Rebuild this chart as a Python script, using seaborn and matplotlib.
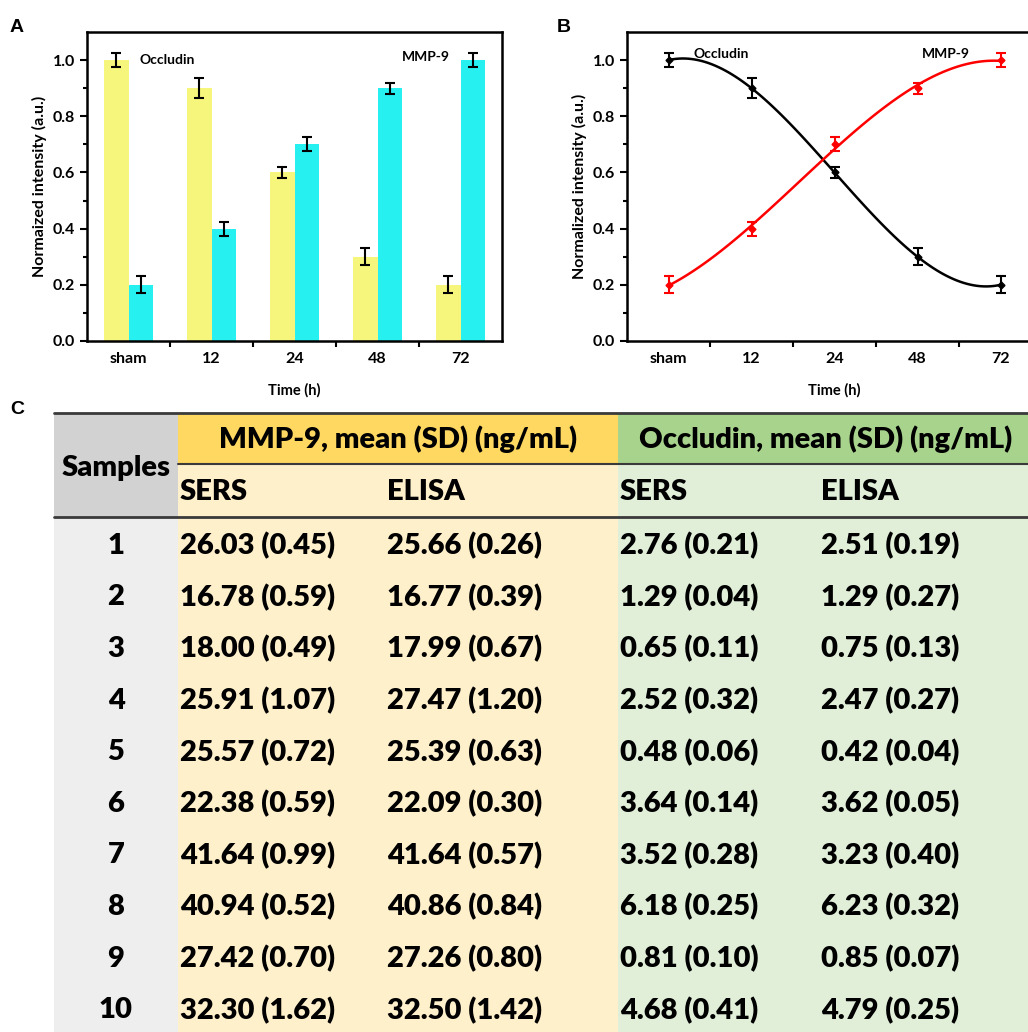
import numpy as np
import pandas as pd
import matplotlib
matplotlib.use("Agg")
import matplotlib.pyplot as plt
from matplotlib.patches import Rectangle
import seaborn as sns

# ---------------- data ----------------
times = ["sham", "12", "24", "48", "72"]
occludin = [1.00, 0.90, 0.60, 0.30, 0.20]
occludin_err = [0.025, 0.035, 0.02, 0.03, 0.03]
mmp9 = [0.20, 0.40, 0.70, 0.90, 1.00]
mmp9_err = [0.03, 0.025, 0.025, 0.02, 0.025]

samples = ["1", "2", "3", "4", "5", "6", "7", "8", "9", "10"]
mmp_sers = ["26.03 (0.45)", "16.78 (0.59)", "18.00 (0.49)", "25.91 (1.07)", "25.57 (0.72)",
            "22.38 (0.59)", "41.64 (0.99)", "40.94 (0.52)", "27.42 (0.70)", "32.30 (1.62)"]
mmp_elisa = ["25.66 (0.26)", "16.77 (0.39)", "17.99 (0.67)", "27.47 (1.20)", "25.39 (0.63)",
             "22.09 (0.30)", "41.64 (0.57)", "40.86 (0.84)", "27.26 (0.80)", "32.50 (1.42)"]
occ_sers = ["2.76 (0.21)", "1.29 (0.04)", "0.65 (0.11)", "2.52 (0.32)", "0.48 (0.06)",
            "3.64 (0.14)", "3.52 (0.28)", "6.18 (0.25)", "0.81 (0.10)", "4.68 (0.41)"]
occ_elisa = ["2.51 (0.19)", "1.29 (0.27)", "0.75 (0.13)", "2.47 (0.27)", "0.42 (0.04)",
             "3.62 (0.05)", "3.23 (0.40)", "6.23 (0.32)", "0.85 (0.07)", "4.79 (0.25)"]

sns.set_style("ticks")
plt.rcParams["font.family"] = ["Lato", "DejaVu Sans"]
plt.rcParams["font.weight"] = "bold"
plt.rcParams["axes.labelweight"] = "bold"
for k in ["text.color", "axes.labelcolor", "xtick.color", "ytick.color"]:
    plt.rcParams[k] = "black"

W, H = 1028, 1032
fig = plt.figure(figsize=(W / 100, H / 100), dpi=100)

YELLOW = "#F6F57C"
CYAN = "#26F0F0"


def style_axes(ax, ylabel):
    ax.set_xlim(-0.5, 4.5)
    ax.set_ylim(0, 1.1)
    ax.set_yticks([0, 0.2, 0.4, 0.6, 0.8, 1.0])
    ax.set_yticks(np.arange(0.1, 1.1, 0.2), minor=True)
    ax.set_xticks(range(5))
    ax.set_xticklabels(times)
    ax.set_xticks(np.arange(0.5, 4.5, 1.0), minor=True)
    ax.tick_params(axis="x", which="major", length=0, pad=8, labelsize=11.5)
    ax.tick_params(axis="x", which="minor", length=4, width=1.5, direction="out")
    ax.tick_params(axis="y", which="major", length=5, width=1.5, labelsize=11.5)
    ax.tick_params(axis="y", which="minor", length=3, width=1.5)
    for s in ax.spines.values():
        s.set_visible(True)
        s.set_linewidth(1.8)
        s.set_color("black")
    ax.set_xlabel("Time (h)", fontsize=10.5, labelpad=12)
    ax.set_ylabel(ylabel, fontsize=11.5, labelpad=4)
    for lab in ax.get_xticklabels() + ax.get_yticklabels():
        lab.set_fontweight("bold")


# ---------------- A: bar chart ----------------
axA = fig.add_axes([87 / W, 1 - 341 / H, 415 / W, 309 / H])
df = pd.DataFrame({
    "Time": times * 2,
    "value": occludin + mmp9,
    "protein": ["Occludin"] * 5 + ["MMP-9"] * 5,
})
sns.barplot(data=df, x="Time", y="value", hue="protein", order=times,
            hue_order=["Occludin", "MMP-9"], palette=[YELLOW, CYAN],
            width=0.58, dodge=True, gap=0, legend=False, errorbar=None,
            saturation=1, ax=axA, linewidth=0)
bars = [p for p in axA.patches if p.get_height() > 0]
errs = occludin_err + mmp9_err
vals = occludin + mmp9
for p, v, e in zip(bars, vals, errs):
    axA.errorbar(p.get_x() + p.get_width() / 2, v, yerr=e, color="black",
                 capsize=3.5, elinewidth=1.5, capthick=1.5, fmt="none")
style_axes(axA, "Normaized intensity (a.u.)")
axA.text(0.13, 1.0, "Occludin", fontsize=10, fontweight="bold", va="center")
axA.text(3.29, 1.01, "MMP-9", fontsize=10, fontweight="bold", va="center")

# ---------------- B: fitted curves ----------------
axB = fig.add_axes([627 / W, 1 - 341 / H, 415 / W, 309 / H])
xpos = np.arange(5)
sns.regplot(x=xpos, y=np.array(occludin), order=3, ci=None, scatter=False,
            color="black", line_kws={"linewidth": 1.8}, ax=axB)
sns.regplot(x=xpos, y=np.array(mmp9), order=3, ci=None, scatter=False,
            color="red", line_kws={"linewidth": 1.8}, ax=axB)
axB.errorbar(xpos, occludin, yerr=occludin_err, fmt="D", ms=3.5, color="black",
             capsize=3.5, elinewidth=1.5, capthick=1.5)
axB.errorbar(xpos, mmp9, yerr=mmp9_err, fmt="D", ms=3.5, color="red",
             capsize=3.5, elinewidth=1.5, capthick=1.5)
style_axes(axB, "Normalized intensity (a.u.)")
axB.text(0.3, 1.02, "Occludin", fontsize=10, fontweight="bold", va="center")
axB.text(3.05, 1.02, "MMP-9", fontsize=10, fontweight="bold", va="center")

# panel letters
fig.text(10 / W, 1 - 27 / H, "A", fontsize=14, fontweight="bold",
         family=["Liberation Sans"], va="center")
fig.text(557 / W, 1 - 27 / H, "B", fontsize=14, fontweight="bold",
         family=["Liberation Sans"], va="center")
fig.text(10 / W, 1 - 410 / H, "C", fontsize=14, fontweight="bold",
         family=["Liberation Sans"], va="center")

# ---------------- C: table ----------------
axC = fig.add_axes([0, 0, 1, 1])
axC.set_xlim(0, W)
axC.set_ylim(H, 0)
axC.axis("off")

col_edges = [54, 178, 385, 618, 819, 1034]
top, h1, h2 = 413, 464, 517
row_h = 51.6
n = len(samples)
bottom = h2 + row_h * n

GOLD, LGOLD = "#FFD862", "#FFF0CC"
GREEN, LGREEN = "#A8D38D", "#E1EFD9"
GRAY, LGRAY = "#D2D2D2", "#EEEEEE"

def rect(x0, y0, x1, y1, c):
    axC.add_patch(Rectangle((x0, y0), x1 - x0, y1 - y0, facecolor=c, edgecolor="none"))

rect(col_edges[0], top, col_edges[1], h2, GRAY)
rect(col_edges[0], h2, col_edges[1], bottom, LGRAY)
rect(col_edges[1], top, col_edges[3], h1, GOLD)
rect(col_edges[3], top, col_edges[5], h1, GREEN)
rect(col_edges[1], h1, col_edges[3], bottom, LGOLD)
rect(col_edges[3], h1, col_edges[5], bottom, LGREEN)

axC.plot([col_edges[0], col_edges[5]], [top, top], color="#3A3A3A", lw=2)
axC.plot([col_edges[1], col_edges[5]], [h1, h1], color="#3A3A3A", lw=1.5)
axC.plot([col_edges[0], col_edges[5]], [h2, h2], color="#3A3A3A", lw=2)

fs = 21
fw = "heavy"
axC.text((col_edges[1] + col_edges[3]) / 2, (top + h1) / 2 + 1, "MMP-9, mean (SD) (ng/mL)",
         ha="center", va="center", fontsize=fs, fontweight=fw)
axC.text((col_edges[3] + col_edges[5]) / 2, (top + h1) / 2 + 1, "Occludin, mean (SD) (ng/mL)",
         ha="center", va="center", fontsize=fs, fontweight=fw)
axC.text((col_edges[0] + col_edges[1]) / 2, (top + h2) / 2 + 3, "Samples",
         ha="center", va="center", fontsize=fs, fontweight=fw)
for c, lab in zip(col_edges[1:5], ["SERS", "ELISA", "SERS", "ELISA"]):
    axC.text(c + 2, (h1 + h2) / 2 + 2, lab, ha="left", va="center",
             fontsize=fs, fontweight=fw)

for i in range(n):
    yc = h2 + row_h * (i + 0.5) + 3
    axC.text((col_edges[0] + col_edges[1]) / 2, yc, samples[i], ha="center",
             va="center", fontsize=fs, fontweight=fw)
    for c, col in zip(col_edges[1:5], [mmp_sers, mmp_elisa, occ_sers, occ_elisa]):
        axC.text(c + 2, yc, col[i], ha="left", va="center", fontsize=fs,
                 fontweight=fw)

fig.savefig("out.png", dpi=100)
